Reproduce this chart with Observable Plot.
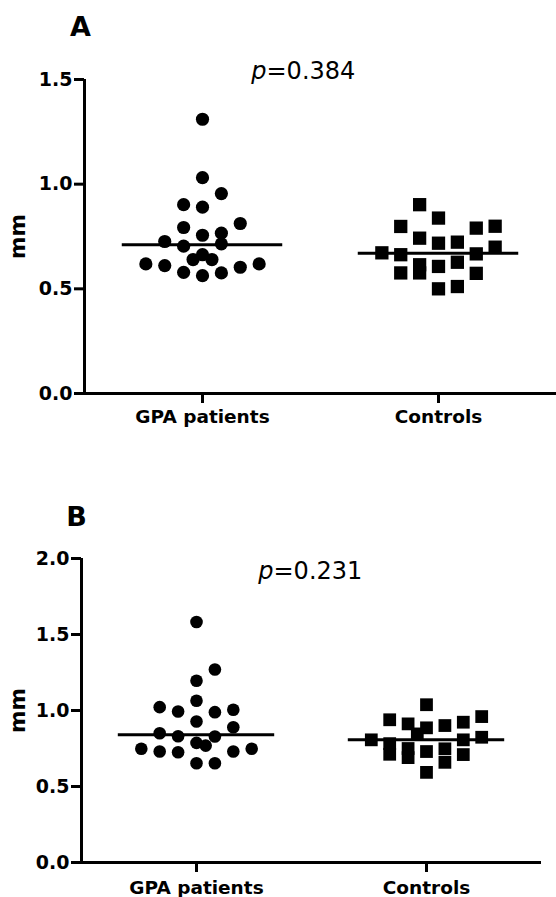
<!DOCTYPE html>
<html><head><meta charset="utf-8">
<script src="https://cdn.jsdelivr.net/npm/d3@7"></script>
<script src="https://cdn.jsdelivr.net/npm/@observablehq/plot@0.6"></script>
<style>
body{margin:0;background:#fff;}
#chart{width:556px;}
#chart svg{display:block;}
</style></head><body><div id="chart"></div>
<script>
const categories = ["GPA patients", "Controls"];

// Panel A — values in mm; slot = horizontal dot position within the column
const aGpaValues = [1.310, 1.031, 0.955, 0.902, 0.890, 0.812, 0.793, 0.756, 0.766, 0.726, 0.704, 0.715, 0.640, 0.663, 0.640, 0.619, 0.611, 0.579, 0.563, 0.576, 0.603, 0.619];
const aGpaSlots  = [0, 0, 1, -1, 0, 2, -1, 0, 1, -2, -1, 1, -0.5, 0, 0.5, -3, -2, -1, 0, 1, 2, 3];
const aCtrlValues = [0.902, 0.838, 0.798, 0.790, 0.799, 0.742, 0.718, 0.723, 0.699, 0.672, 0.663, 0.667, 0.615, 0.576, 0.607, 0.627, 0.576, 0.574, 0.500, 0.511];
const aCtrlSlots  = [-1, 0, -2, 2, 3, -1, 0, 1, 3, -3, -2, 2, -1, -1, 0, 1, -2, 2, 0, 1];
const aMedians = [0.710, 0.670];
const aTicks = [0, 0.5, 1.0, 1.5];
const aP = "0.384";

// Panel B
const bGpaValues = [1.582, 1.270, 1.196, 1.064, 1.022, 0.993, 0.989, 1.005, 0.928, 0.890, 0.850, 0.831, 0.829, 0.787, 0.769, 0.748, 0.730, 0.725, 0.730, 0.748, 0.653, 0.653];
const bGpaSlots  = [0, 1, 0, 0, -2, -1, 1, 2, 0, 2, -2, -1, 1, 0, 0.5, -3, -2, -1, 2, 3, 0, 1];
const bCtrlValues = [1.038, 0.939, 0.960, 0.912, 0.886, 0.901, 0.923, 0.807, 0.782, 0.712, 0.750, 0.690, 0.846, 0.730, 0.593, 0.748, 0.659, 0.807, 0.710, 0.824];
const bCtrlSlots  = [0, -2, 3, -1, 0, 1, 2, -3, -2, -2, -1, -1, -0.5, 0, 0, 1, 1, 2, 2, 3];
const bMedians = [0.840, 0.807];
const bTicks = [0, 0.5, 1.0, 1.5, 2.0];
const bP = "0.231";

const SLOT = 0.16;   // column spacing of dots (x units)
const HALF = 0.68;   // half-length of the median line (x units)

function rows(values, slots, g) {
  return values.map((v, i) => ({x: 1 + 2 * g + slots[i] * SLOT, y: v}));
}

function panel(o) {
  const gpa = rows(o.gpaV, o.gpaS, 0);
  const ctrl = rows(o.ctrlV, o.ctrlS, 1);
  const med = o.medians.map((m, i) => ({y: m, c: 1 + 2 * i}));
  return Plot.plot({
    width: 556, height: o.height,
    marginLeft: o.ml, marginRight: o.mr, marginTop: o.mt, marginBottom: o.mb,
    style: {fontFamily: "DejaVu Sans", fontSize: "18.5px", fontWeight: "bold", color: "black", background: "white", overflow: "visible"},
    x: {domain: [0, 4], axis: null},
    y: {domain: [0, o.yMax], axis: null},
    marks: [
      Plot.ruleY(med, {y: "y", x1: d => d.c - HALF, x2: d => d.c + HALF, stroke: "black", strokeWidth: 3}),
      Plot.dot(gpa, {x: "x", y: "y", r: o.rGpa, fill: "black", symbol: "circle"}),
      Plot.dot(ctrl, {x: "x", y: "y", r: o.rCtrl, fill: "black", symbol: "square"}),
      Plot.axisY({ticks: o.ticks, tickFormat: d3.format(".1f"), tickSize: 10, tickPadding: 2, stroke: "black", strokeWidth: 3, fontSize: 19, fontWeight: "bold", label: null}),
      Plot.axisX({ticks: [1, 3], tickFormat: d => categories[(d - 1) / 2], tickSize: 10, tickPadding: o.xPad, stroke: "black", strokeWidth: 3, fontSize: 18.5, fontWeight: "bold", label: null}),
      Plot.ruleX([0], {stroke: "black", strokeWidth: 3}),
      Plot.ruleY([0], {stroke: "black", strokeWidth: 3}),
      Plot.text([o.letter], {frameAnchor: "top-left", dx: o.letterDx, dy: o.letterDy, fontSize: 27, fontWeight: "bold", textAnchor: "middle", lineAnchor: "bottom"}),
      Plot.text(["mm"], {frameAnchor: "left", rotate: -90, dx: o.mmDx, fontSize: 21.5, fontWeight: "bold", textAnchor: "middle", lineAnchor: "middle"}),
      Plot.text(["p"], {frameAnchor: "top-left", dx: o.pDx, dy: o.pDy, fontSize: 24, fontWeight: "normal", fontStyle: "italic", textAnchor: "end", lineAnchor: "bottom"}),
      Plot.text(["=" + o.p], {frameAnchor: "top-left", dx: o.pDx, dy: o.pDy, fontSize: 24, fontWeight: "normal", textAnchor: "start", lineAnchor: "bottom"})
    ]
  });
}

const chart = document.getElementById("chart");
chart.append(panel({
  letter: "A", gpaV: aGpaValues, gpaS: aGpaSlots, ctrlV: aCtrlValues, ctrlS: aCtrlSlots,
  medians: aMedians, ticks: aTicks, yMax: 1.5, p: aP,
  height: 450, ml: 84, mr: 0, mt: 79, mb: 57,
  rGpa: 6.6, rCtrl: 7.5, xPad: 6,
  letterDx: -4, letterDy: -44, mmDx: -66, pDx: 182, pDy: -1
}));
chart.append(panel({
  letter: "B", gpaV: bGpaValues, gpaS: bGpaSlots, ctrlV: bCtrlValues, ctrlS: bCtrlSlots,
  medians: bMedians, ticks: bTicks, yMax: 2.0, p: bP,
  height: 447, ml: 81, mr: 15, mt: 108, mb: 35,
  rGpa: 6.3, rCtrl: 7.2, xPad: 8,
  letterDx: -5, letterDy: -33, mmDx: -63, pDx: 192, pDy: 20
}));
</script>
</body></html>
